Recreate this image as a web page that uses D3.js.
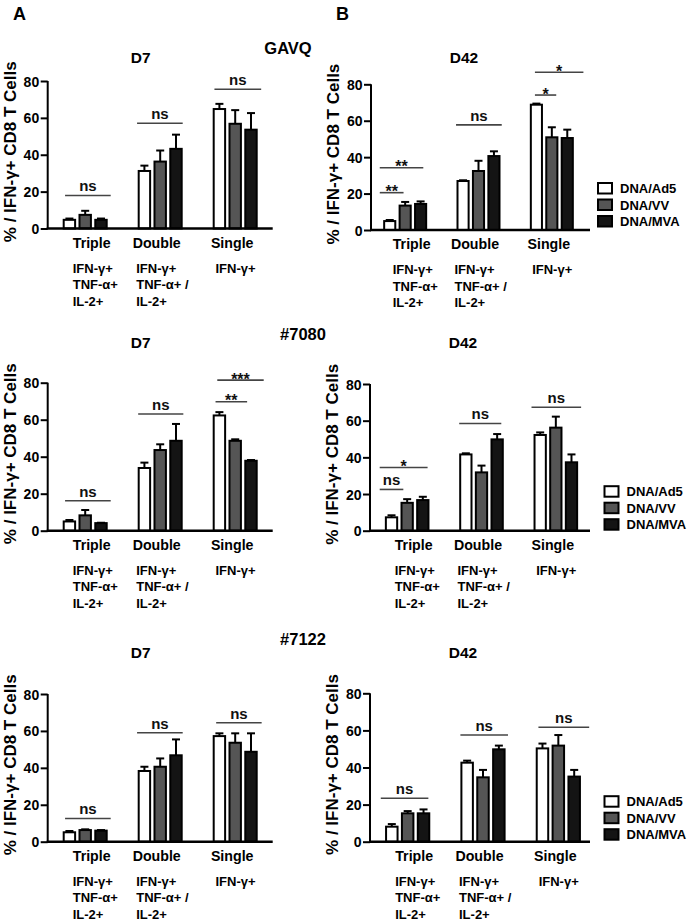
<!DOCTYPE html>
<html>
<head>
<meta charset="utf-8">
<script src="https://cdn.jsdelivr.net/npm/d3@7"></script>
<style>
  html, body { margin: 0; padding: 0; background: #fff; }
  svg { display: block; font-family: "Liberation Sans", Arial, Helvetica, sans-serif; font-weight: bold; }
</style>
</head>
<body>
<svg id="chart" width="696" height="921"></svg>
<script>
// ---------------- DATA ----------------
const categories = ["Triple", "Double", "Single"];
const series = ["DNA/Ad5", "DNA/VV", "DNA/MVA"];
const subLabels = [["IFN-γ+", "TNF-α+", "IL-2+"], ["IFN-γ+", "TNF-α+ /", "IL-2+"], ["IFN-γ+"]];
const yTicks = [0, 20, 40, 60, 80];
const panelLetters = ["A", "B"];
const rowNames = ["GAVQ", "#7080", "#7122"];
const panelTitles = ["D7", "D42"];
const yLabel = "% / IFN-γ+ CD8 T Cells";

// means [category][series]
const meanGAVQ_D7   = [[4.7, 7.4, 4.7], [31.2, 36.3, 43.2], [64.8, 56.8, 53.6]];
const semGAVQ_D7    = [[0.7, 2.2, 0.7], [2.9, 6.0, 7.7], [2.8, 7.4, 9.0]];
const meanGAVQ_D42  = [[4.9, 13.4, 14.3], [26.9, 32.4, 40.6], [68.8, 50.9, 50.5]];
const semGAVQ_D42   = [[0.6, 2.0, 1.4], [0.4, 5.6, 2.6], [0.6, 5.5, 4.6]];
const mean7080_D7   = [[5.0, 8.3, 4.1], [33.9, 43.6, 48.6], [62.3, 48.6, 37.8]];
const sem7080_D7    = [[0.8, 2.9, 0.2], [2.9, 3.1, 9.1], [1.8, 0.8, 0.4]];
const mean7080_D42  = [[7.3, 15.2, 16.7], [41.6, 31.8, 49.8], [52.2, 56.2, 37.3]];
const sem7080_D42   = [[1.1, 2.0, 1.8], [0.6, 3.7, 2.9], [1.4, 6.0, 4.3]];
const mean7122_D7   = [[5.1, 6.3, 6.0], [38.3, 40.6, 46.8], [57.2, 53.6, 48.7]];
const sem7122_D7    = [[0.7, 0.4, 0.3], [2.3, 4.5, 8.6], [1.5, 5.1, 10.0]];
const mean7122_D42  = [[8.1, 15.3, 15.3], [42.6, 34.7, 49.8], [50.3, 51.8, 35.1]];
const sem7122_D42   = [[1.4, 1.2, 2.1], [1.1, 4.0, 2.0], [2.6, 5.7, 3.6]];

// significance brackets: category index, from/to (in bar steps from first bar), value, label
const sigGAVQ_D7  = [[0, 0.15, 3.04, 17.9, "ns"], [1, -0.04, 2.85, 57.1, "ns"], [2, 0.11, 3.07, 75.5, "ns"]];
const sigGAVQ_D42 = [[0, -0.22, 1.32, 20.5, "**"], [0, -0.22, 2.6, 34.2, "**"], [1, -0.03, 2.93, 57.7, "ns"],
                     [2, 0.33, 1.71, 74.1, "*"], [2, 0.33, 3.47, 86.6, "*"]];
const sig7080_D7  = [[0, 0.15, 3.04, 16.2, "ns"], [1, 0.03, 2.89, 63.1, "ns"], [2, 0.18, 2.18, 69.7, "**"],
                     [2, 0.29, 3.23, 81.4, "***"]];
const sig7080_D42 = [[0, -0.33, 1.18, 22.5, "ns"], [0, -0.33, 2.73, 34.5, "*"], [1, 0, 2.69, 58.5, "ns"],
                     [2, -0.13, 3.04, 67.3, "ns"]];
const sig7122_D7  = [[0, 0.15, 3.04, 12.6, "ns"], [1, -0.04, 2.85, 59, "ns"], [2, 0.22, 3.1, 64.4, "ns"]];
const sig7122_D42 = [[0, -0.27, 2.73, 23.4, "ns"], [1, 0, 3, 57.5, "ns"], [2, 0.17, 3.37, 61.7, "ns"]];

// ---------------- LAYOUT ----------------
const fills = ["#ffffff", "#555555", "#141414"];
const panels = [
  { mean: meanGAVQ_D7,  sem: semGAVQ_D7,  sig: sigGAVQ_D7,  title: 0, x0: 47.7, x1: 272.7, y0: 228.5, yTop: 81,    titleY: 63.3, legend: null },
  { mean: meanGAVQ_D42, sem: semGAVQ_D42, sig: sigGAVQ_D42, title: 1, x0: 371,  x1: 590,   y0: 230,   yTop: 84.3,  titleY: 63.3, legend: { x: 597, y: 188.5 }, bx0: 368.5, bx1: 588.5 },
  { mean: mean7080_D7,  sem: sem7080_D7,  sig: sig7080_D7,  title: 0, x0: 47.7, x1: 272.7, y0: 530.7, yTop: 382.7, titleY: 348.3, legend: null },
  { mean: mean7080_D42, sem: sem7080_D42, sig: sig7080_D42, title: 1, x0: 370,  x1: 590,   y0: 530.7, yTop: 384,   titleY: 348.3, legend: { x: 603.5, y: 491.7 }, bx0: 370, bx1: 593 },
  { mean: mean7122_D7,  sem: sem7122_D7,  sig: sig7122_D7,  title: 0, x0: 47.7, x1: 272.7, y0: 841.7, yTop: 694,   titleY: 658.3, legend: null },
  { mean: mean7122_D42, sem: sem7122_D42, sig: sig7122_D42, title: 1, x0: 370,  x1: 590,   y0: 841.7, yTop: 693.3, titleY: 658.3, legend: { x: 603.5, y: 801.7 }, bx0: 370, bx1: 596 }
];

const svg = d3.select("#chart");

// panel letters
svg.append("text").attr("x", 13).attr("y", 19.5).attr("font-size", 18).text(panelLetters[0]);
svg.append("text").attr("x", 336).attr("y", 19.5).attr("font-size", 18).text(panelLetters[1]);

// row names
const rowPos = [[288, 54], [303, 340], [303, 645]];
rowNames.forEach((n, i) => {
  svg.append("text").attr("x", rowPos[i][0]).attr("y", rowPos[i][1])
    .attr("text-anchor", "middle").attr("font-size", 16.5).text(n);
});

const labelOffsets = [6.5, -3.5, -3];
const subOffsets = [-12.5, -24, -19.7];

panels.forEach(p => {
  const g = svg.append("g");
  const y = d3.scaleLinear().domain([0, 80]).range([p.y0, p.yTop]);
  const x = d3.scaleBand().domain(categories).range([p.bx0 ?? p.x0, p.bx1 ?? p.x1]).paddingInner(0.4).paddingOuter(0.2);
  const xi = d3.scaleBand().domain(series).range([0, x.bandwidth()]).paddingInner(0.15);

  // title
  g.append("text").attr("x", p.x0 + 93).attr("y", p.titleY).attr("text-anchor", "middle")
    .attr("font-size", 15.5).text(panelTitles[p.title]);

  // y label
  g.append("text")
    .attr("transform", `translate(${p.x0 - 32},${(p.y0 + p.yTop) / 2 - 3}) rotate(-90)`)
    .attr("text-anchor", "middle").attr("font-size", 17).text(yLabel);

  // bars
  categories.forEach((c, ci) => {
    series.forEach((s, si) => {
      const v = p.mean[ci][si], e = p.sem[ci][si];
      const bx = x(c) + xi(s);
      const bw = xi.bandwidth();
      g.append("rect")
        .attr("x", bx + 1).attr("y", y(v))
        .attr("width", bw - 2).attr("height", y(0) - y(v))
        .attr("fill", fills[si]).attr("stroke", "#000").attr("stroke-width", 2);
      const cx = bx + bw / 2;
      g.append("line").attr("x1", cx).attr("x2", cx).attr("y1", y(v)).attr("y2", y(v + e))
        .attr("stroke", "#000").attr("stroke-width", 2);
      g.append("line").attr("x1", cx - 4).attr("x2", cx + 4).attr("y1", y(v + e)).attr("y2", y(v + e))
        .attr("stroke", "#000").attr("stroke-width", 2);
    });
    // category label
    const gc = x(c) + x.bandwidth() / 2;
    g.append("text").attr("x", gc + labelOffsets[ci]).attr("y", p.y0 + 19)
      .attr("text-anchor", "middle").attr("font-size", 14.2).text(c);
    subLabels[ci].forEach((t, li) => {
      g.append("text").attr("x", gc + subOffsets[ci]).attr("y", p.y0 + 44 + li * 16.5)
        .attr("font-size", 13).text(t);
    });
  });

  // y axis
  const ax = g.append("g").attr("transform", `translate(${p.x0},0)`)
    .call(d3.axisLeft(y).tickValues(yTicks).tickSize(7).tickPadding(1.5));
  ax.select(".domain").attr("stroke-width", 2).attr("d", `M0,${p.yTop}V${p.y0}`);
  ax.selectAll(".tick line").attr("stroke-width", 2);
  ax.selectAll(".tick text").attr("font-size", 14).attr("font-family", "Liberation Sans, Arial, sans-serif")
    .attr("font-weight", "bold").attr("fill", "#000").attr("dy", "0.36em");

  // x axis line
  g.append("line").attr("x1", p.x0 - 1).attr("x2", p.x1).attr("y1", y(0)).attr("y2", y(0))
    .attr("stroke", "#000").attr("stroke-width", 2.5);

  // significance
  const step = xi.step();
  p.sig.forEach(([ci, f, t, v, lab]) => {
    const left = x(categories[ci]);
    const xa = left + f * step, xb = left + t * step;
    const yy = y(v);
    g.append("line").attr("x1", xa).attr("x2", xb).attr("y1", yy).attr("y2", yy)
      .attr("stroke", "#444").attr("stroke-width", 1.6);
    const isStar = lab.indexOf("*") >= 0;
    g.append("text").attr("x", (xa + xb) / 2).attr("y", isStar ? yy + 4.5 : yy - 4)
      .attr("text-anchor", "middle").attr("font-size", isStar ? 16 : 15).attr("fill", "#111").text(lab);
  });

  // legend
  if (p.legend) {
    series.forEach((s, si) => {
      const ly = p.legend.y + si * 16.5;
      g.append("rect").attr("x", p.legend.x + 1).attr("y", ly - 5.5).attr("width", 14).attr("height", 10.5)
        .attr("fill", fills[si]).attr("stroke", "#000").attr("stroke-width", 2);
      g.append("text").attr("x", p.legend.x + 23).attr("y", ly + 4.7).attr("font-size", 13).text(s);
    });
  }
});
</script>
</body>
</html>
